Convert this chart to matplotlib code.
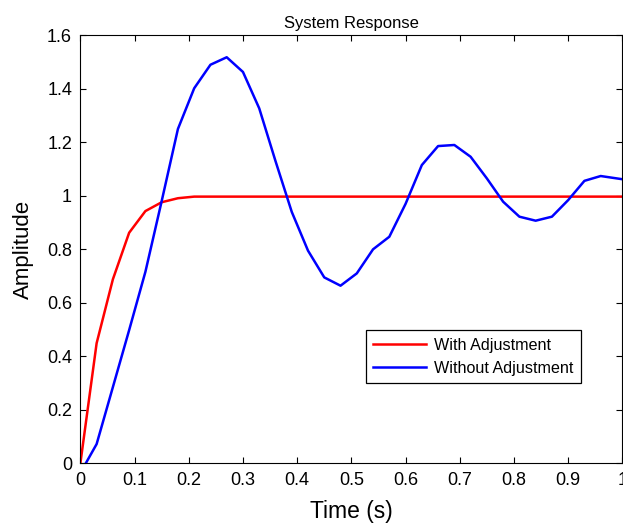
import matplotlib
matplotlib.use("Agg")
import numpy as np
from matplotlib import pyplot as plt

plt.rcParams['font.family'] = ['Liberation Sans', 'DejaVu Sans']

# response with adjustment (red), sampled every 0.03 s
t_adj = [0.0, 0.03, 0.06, 0.09, 0.12, 0.15, 0.18, 0.21, 0.24, 0.27, 0.30,
         0.40, 0.50, 0.60, 0.70, 0.80, 0.90, 1.0]
y_adj = [0.0, 0.449, 0.688, 0.862, 0.943, 0.976, 0.991, 0.997, 0.997, 0.997, 0.997,
         0.997, 0.997, 0.997, 0.997, 0.997, 0.997, 0.997]

# response without adjustment (blue)
t_raw = [0.01, 0.03, 0.06, 0.09, 0.12, 0.15, 0.18, 0.21, 0.24, 0.27, 0.30,
         0.33, 0.36, 0.39, 0.42, 0.45, 0.48, 0.51, 0.54, 0.57, 0.60, 0.63,
         0.66, 0.69, 0.72, 0.75, 0.78, 0.81, 0.84, 0.87, 0.90, 0.93, 0.96, 1.0]
y_raw = [0.0, 0.072, 0.285, 0.498, 0.716, 0.98, 1.25, 1.402, 1.49, 1.518, 1.463,
         1.327, 1.13, 0.94, 0.795, 0.695, 0.664, 0.71, 0.80, 0.847, 0.97, 1.115,
         1.186, 1.19, 1.146, 1.065, 0.978, 0.922, 0.907, 0.922, 0.984, 1.056, 1.074, 1.062]

x_ticks = [0, 0.1, 0.2, 0.3, 0.4, 0.5, 0.6, 0.7, 0.8, 0.9, 1]
x_labels = ["0", "0.1", "0.2", "0.3", "0.4", "0.5", "0.6", "0.7", "0.8", "0.9", "1"]
y_ticks = [0, 0.2, 0.4, 0.6, 0.8, 1, 1.2, 1.4, 1.6]
y_labels = ["0", "0.2", "0.4", "0.6", "0.8", "1", "1.2", "1.4", "1.6"]

fig = plt.figure(figsize=(6.23, 5.24), dpi=100)
ax = fig.add_axes([0.129, 0.1158, 0.870, 0.8168])

ax.plot(t_adj, y_adj, color=(1, 0, 0), lw=1.8, label="With Adjustment")
ax.plot(t_raw, y_raw, color=(0, 0, 1), lw=1.8, label="Without Adjustment")

ax.set_xlim(0, 1)
ax.set_ylim(0, 1.6)
ax.set_xticks(x_ticks)
ax.set_xticklabels(x_labels)
ax.set_yticks(y_ticks)
ax.set_yticklabels(y_labels)
ax.tick_params(direction="in", length=4, width=0.8, top=True, right=True,
               labelsize=13, pad=6)
for s in ax.spines.values():
    s.set_linewidth(0.8)

ax.set_title("System Response", fontsize=12, pad=5)
ax.set_xlabel("Time (s)", fontsize=16.5, labelpad=8)
ax.set_ylabel("Amplitude", fontsize=16, labelpad=9)

leg = ax.legend(loc="lower left", bbox_to_anchor=(0.527, 0.188), fontsize=11.6,
                fancybox=False, edgecolor="black", framealpha=1,
                handlelength=3.3, handletextpad=0.5, borderpad=0.45,
                labelspacing=0.5, borderaxespad=0)
leg.get_frame().set_linewidth(0.9)

fig.savefig("out.png", dpi=100)
